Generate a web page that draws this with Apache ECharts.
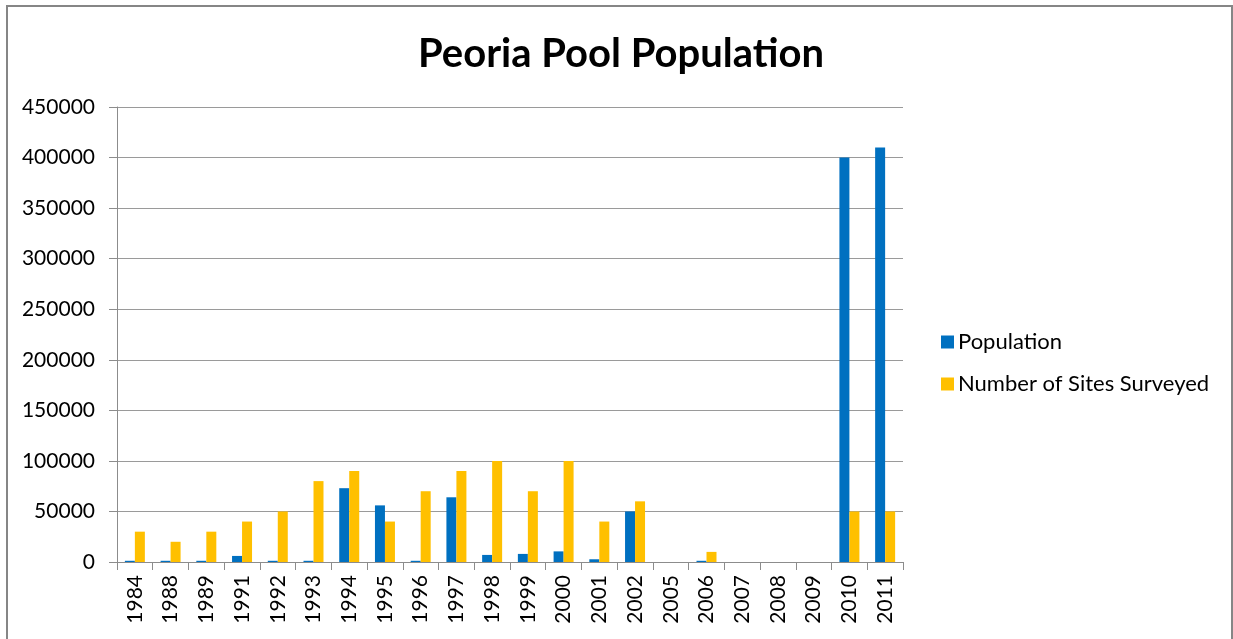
<!DOCTYPE html>
<html>
<head>
<meta charset="utf-8">
<script src="https://cdn.jsdelivr.net/npm/echarts@6/dist/echarts.min.js"></script>
<style>
  html, body { margin: 0; padding: 0; background: #fff; }
  #chart { width: 1233px; height: 639px; }
</style>
</head>
<body>
<div id="chart"></div>
<script>
// Survey years (category axis)
const years = ['1984','1988','1989','1991','1992','1993','1994','1995','1996','1997','1998',
               '1999','2000','2001','2002','2005','2006','2007','2008','2009','2010','2011'];

// Estimated pool population per year
const population = [1200, 1200, 1200, 6000, 1200, 1200, 73000, 56000, 1200, 64000, 7000,
                    8000, 10500, 2700, 50000, null, 1200, null, null, null, 400000, 410000];

// Number of sites surveyed per year
const sitesSurveyed = [30000, 20000, 30000, 40000, 50000, 80000, 90000, 40000, 70000, 90000, 100000,
                       70000, 100000, 40000, 60000, null, 10000, null, null, null, 50000, 50000];

const seriesNames = ['Population', 'Number of Sites Surveyed'];

const FONT = 'Lato, "Liberation Sans", sans-serif';
const chart = echarts.init(document.getElementById('chart'), null, { renderer: 'canvas' });

chart.setOption({
  animation: false,
  backgroundColor: '#ffffff',
  title: {
    text: 'Peoria Pool Population',
    left: 616,
    textAlign: 'center',
    top: 29,
    textStyle: { fontFamily: FONT, fontWeight: 'bold', fontSize: 40, color: '#000' }
  },
  graphic: [{
    type: 'rect',
    shape: { x: 7, y: 6, width: 1225, height: 700 },
    style: { fill: 'none', stroke: '#868686', lineWidth: 2 },
    silent: true
  }],
  legend: {
    orient: 'vertical',
    left: 936,
    top: 326,
    itemWidth: 13,
    itemHeight: 13,
    itemGap: 20,
    icon: 'rect',
    data: seriesNames,
    textStyle: { fontFamily: FONT, fontSize: 22, color: '#000', padding: [0, 0, 0, -1] }
  },
  grid: { left: 117, top: 107, right: 330, bottom: 77, containLabel: false },
  xAxis: {
    type: 'category',
    data: years,
    axisLine: { show: true, lineStyle: { color: '#8c8c8c', width: 1 } },
    axisTick: { show: true, alignWithLabel: false, length: 8, lineStyle: { color: '#8c8c8c' } },
    axisLabel: {
      rotate: 90, interval: 0, margin: 13,
      fontFamily: FONT, fontSize: 21, color: '#000'
    }
  },
  yAxis: {
    type: 'value',
    min: 0,
    max: 450000,
    interval: 50000,
    axisLine: { show: true, lineStyle: { color: '#8c8c8c', width: 1 } },
    axisTick: { show: true, inside: false, length: 8, lineStyle: { color: '#8c8c8c' } },
    splitLine: { show: true, lineStyle: { color: '#9a9a9a', width: 1 } },
    axisLabel: {
      margin: 22, fontFamily: FONT, fontSize: 21, color: '#000',
      formatter: v => String(v)
    }
  },
  series: [
    {
      name: seriesNames[0],
      type: 'bar',
      data: population,
      barWidth: 10,
      barGap: '0%',
      itemStyle: { color: '#0070C0' }
    },
    {
      name: seriesNames[1],
      type: 'bar',
      data: sitesSurveyed,
      barWidth: 10,
      barGap: '0%',
      itemStyle: { color: '#FFC000' }
    }
  ]
});
</script>
</body>
</html>
